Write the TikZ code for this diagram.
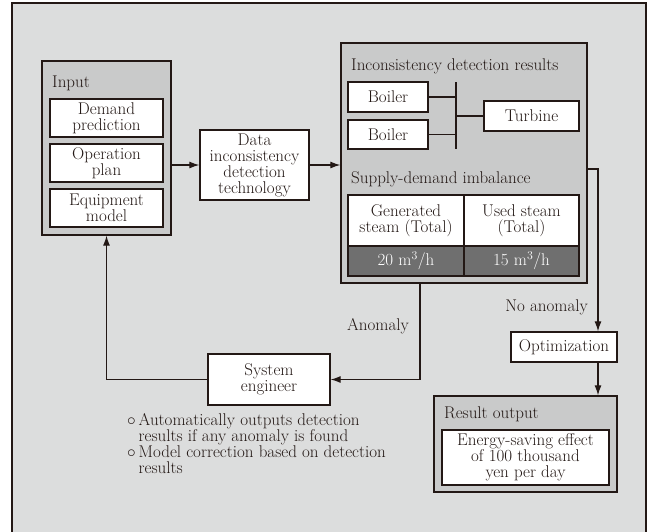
\documentclass[tikz,border=0pt]{standalone}
\usetikzlibrary{arrows.meta,calc}
\definecolor{bgback}{HTML}{DCDDDD}
\definecolor{panel}{HTML}{C9CACA}
\definecolor{darkcell}{HTML}{6F6F6F}
\definecolor{ink}{HTML}{231815}
\tikzset{
  txt/.style={font=\fontsize{17}{16}\selectfont, text=ink},
  panelbox/.style={draw=ink, line width=1.3pt, fill=panel},
  whitebox/.style={txt, draw=ink, line width=1.3pt, fill=white, align=center, inner sep=0pt},
  darkbox/.style={txt, draw=ink, line width=1.3pt, fill=darkcell, text=white, inner sep=0pt},
  title/.style={txt, anchor=base west, inner sep=0pt},
  wire/.style={draw=ink, line width=1.2pt},
  flow/.style={wire, -{Latex[length=10pt,width=7pt]}},
}
\begin{document}
\begin{tikzpicture}[x=1pt,y=-1pt]
\useasboundingbox (0,0) rectangle (651,531);
\clip (0,0) rectangle (651,531);
% background frame (open at the bottom)
\fill[white] (0,0) rectangle (651,531);
\filldraw[fill=bgback, draw=ink, line width=1.5pt] (12,545) -- (12,3) -- (646,3) -- (646,545);

% input panel
\node[panelbox, minimum width=129pt, minimum height=174pt] (input) at (106.5,148) {};
\node[title] (inputT) at (52,87) {Input};
\node[whitebox, minimum width=113pt, minimum height=38pt] (dem) at (106.5,118) {Demand\\prediction};
\node[whitebox, minimum width=113pt, minimum height=38pt] (ope) at (106.5,163) {Operation\\plan};
\node[whitebox, minimum width=113pt, minimum height=38pt] (equ) at (106.5,208) {Equipment\\model};

% detection technology
\node[whitebox, minimum width=109pt, minimum height=70pt] (data) at (254.5,165) {Data\\inconsistency\\detection\\technology};

% detection results panel
\node[panelbox, minimum width=246pt, minimum height=240pt] (big) at (464,163) {};
\node[title] (bigT) at (351,70) {Inconsistency detection results};
\node[whitebox, minimum width=80pt, minimum height=30pt] (b1) at (388,97) {Boiler};
\node[whitebox, minimum width=80pt, minimum height=29pt] (b2) at (388,134.5) {Boiler};
\node[whitebox, minimum width=95pt, minimum height=30pt] (turb) at (531.5,116) {Turbine};
\coordinate (busT) at (456,82);
\coordinate (busB) at (456,149);
\draw[wire] (busT) -- (busB);
\draw[wire] (b1.east) -- (b1.east -| busT);
\draw[wire] (b2.east) -- (b2.east -| busT);
\draw[wire] (turb.west -| busT) -- (turb.west);
\node[title] (sdT) at (351,183) {Supply-demand imbalance};
\node[whitebox, minimum width=116pt, minimum height=51pt] (gen) at (406,220.5) {Generated\\steam (Total)};
\node[whitebox, minimum width=115pt, minimum height=51pt] (use) at (521.5,220.5) {Used steam\\(Total)};
\node[darkbox, minimum width=116pt, minimum height=30pt] (genv) at (406,261) {20 m\textsuperscript{3}/h};
\node[darkbox, minimum width=115pt, minimum height=30pt] (usev) at (521.5,261) {15 m\textsuperscript{3}/h};

% optimization and result
\node[whitebox, minimum width=106pt, minimum height=30pt] (opt) at (564,347) {Optimization};
\node[panelbox, minimum width=183pt, minimum height=96pt] (res) at (525.5,444) {};
\node[title] (resT) at (444,418) {Result output};
\node[whitebox, minimum width=167pt, minimum height=55pt] (eff) at (525.5,457.5) {Energy-saving effect\\of 100 thousand\\yen per day};

% engineer
\node[whitebox, minimum width=122pt, minimum height=51pt] (sys) at (269,379.5) {System\\engineer};
\node[txt, anchor=north west, align=left, inner sep=0pt] (notes) at (127,413)
  {$\circ$\,Automatically outputs detection\\
   \hphantom{$\circ$\,}results if any anomaly is found\\
   $\circ$\,Model correction based on detection\\
   \hphantom{$\circ$\,}results};

% connectors
\draw[flow] (input.east |- data.west) -- (data.west);
\draw[flow] (data.east) -- (data.east -| big.west);
\coordinate (bend) at (598,169);
\draw[flow] (bend -| big.east) -- (bend) -- (bend |- opt.north);
\draw[flow] (opt.south -| bend) -- (bend |- res.north);
\node[txt, anchor=base east, inner sep=0pt] (noanom) at (588,311) {No anomaly};
\coordinate (anomX) at (420,283);
\draw[flow] (big.south -| anomX) |- (sys.east);
\node[txt, anchor=base, inner sep=0pt] (anom) at (378,330) {Anomaly};
\draw[flow] (sys.west) -| (input.south);
\end{tikzpicture}
\end{document}
